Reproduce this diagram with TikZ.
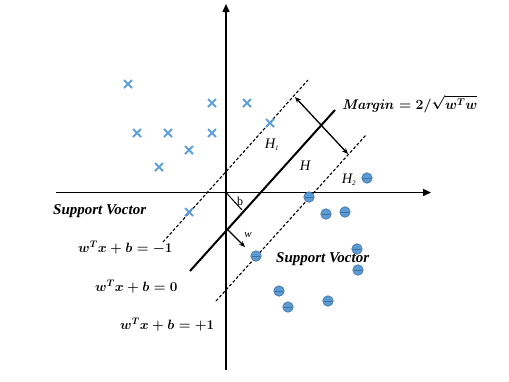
\RequirePackage{fix-cm}
\documentclass[tikz,border=0pt]{standalone}
\usepackage[no-math]{fontspec}
\setmainfont{Liberation Serif}
\usepackage{amsmath}
\usetikzlibrary{shapes.misc,arrows.meta}
\definecolor{ptblue}{HTML}{5B9BD5}
\definecolor{ptedge}{HTML}{41719C}
\definecolor{xblue}{HTML}{5E9FDB}
\tikzset{
  axisline/.style={line width=1.5pt,-{Triangle[length=8pt,width=7pt]}},
  xpt/.style={cross out,draw=xblue,line width=2pt,minimum size=6pt,inner sep=0pt},
  opt/.style={circle,fill=ptblue,draw=ptedge,line width=0.6pt,minimum size=10.5pt,inner sep=0pt,
     path picture={\draw[ptedge,line width=1pt] ([xshift=1pt]path picture bounding box.west) -- ([xshift=-1pt]path picture bounding box.east);}},
  hyper/.style={line width=2pt},
  margline/.style={line width=1.1pt,dash pattern=on 3pt off 2pt},
  hlbl/.style={font=\itshape\fontsize{14.5}{14}\selectfont,inner sep=0pt},
  svtext/.style={font=\bfseries\itshape\fontsize{15}{15}\selectfont,inner sep=0pt},
  eqtext/.style={font=\fontsize{13.5}{14}\selectfont\boldmath,inner sep=0pt},
  margtext/.style={font=\fontsize{14}{14}\selectfont\boldmath,inner sep=0pt},
}
\begin{document}
\begin{tikzpicture}[x=1pt,y=-1pt]
\useasboundingbox (0,0) rectangle (509,381);
% axes
\coordinate (yb) at (226,370);
\coordinate (yt) at (226,4);
\coordinate (xl) at (56,192.5);
\coordinate (xr) at (431,192.5);
\draw[axisline] (yb) -- (yt);
\draw[axisline] (xl) -- (xr);
% hyperplanes
\coordinate (h0a) at (190,271);
\coordinate (h0b) at (335,110);
\coordinate (h1a) at (163,242);
\coordinate (h1b) at (308,80);
\coordinate (h2a) at (216,301);
\coordinate (h2b) at (366,135);
\draw[hyper] (h0a) -- (h0b);
\draw[margline] (h1a) -- (h1b);
\draw[margline] (h2a) -- (h2b);
% margin arrow
\coordinate (ma) at (295,97);
\coordinate (mb) at (348,154);
\draw[line width=1.3pt,{Stealth[length=6pt,width=5pt]}-{Stealth[length=6pt,width=5pt]}] (ma) -- (mb);
% b and w
\coordinate (o) at (226,192.5);
\fill (o) circle (1.8pt);
\coordinate (bf) at (242,210);
\draw[line width=1pt] (o) -- (bf);
\node[font=\fontsize{12}{12}\selectfont,inner sep=0pt] (blab) at (240,201) {b};
\coordinate (ws) at (227,229);
\coordinate (we) at (245,247);
\draw[line width=1.1pt,-{Stealth[length=6pt,width=5pt]}] (ws) -- (we);
\node[font=\itshape\fontsize{11}{11}\selectfont,inner sep=0pt] (wlab) at (248,235) {w};
% labels
\node[hlbl] (H1) at (272,145) {H\textsubscript{\fontsize{7}{7}\selectfont 1}};
\node[hlbl] (H) at (305,166) {H};
\node[hlbl] (H2) at (349,180) {H\textsubscript{\fontsize{7}{7}\selectfont 2}};
\node[margtext,anchor=west] (marg) at (342,104) {$\mathit{Margin}=2/\sqrt{w^{T}w}$};
\node[svtext,anchor=west] (sv1) at (53,211) {Support Voctor};
\node[svtext,anchor=west] (sv2) at (276,259) {Support Voctor};
\node[eqtext,anchor=west] (e1) at (78,248) {$w^{T}x+b=-1$};
\node[eqtext,anchor=west] (e2) at (95,287) {$w^{T}x+b=0$};
\node[eqtext,anchor=west] (e3) at (120,325) {$w^{T}x+b=+1$};
% crosses
\node[xpt] (x1) at (128,84) {};
\node[xpt] (x2) at (212,103) {};
\node[xpt] (x3) at (247,103) {};
\node[xpt] (x4) at (270,123) {};
\node[xpt] (x5) at (137,133) {};
\node[xpt] (x6) at (168,133) {};
\node[xpt] (x7) at (212,133) {};
\node[xpt] (x8) at (189,150) {};
\node[xpt] (x9) at (159,167) {};
\node[xpt] (x10) at (189,212) {};
% circles
\node[opt] (c1) at (367,178) {};
\node[opt] (c2) at (309,197) {};
\node[opt] (c3) at (326,214) {};
\node[opt] (c4) at (345,212) {};
\node[opt] (c5) at (357,249) {};
\node[opt] (c6) at (358,270) {};
\node[opt] (c7) at (256,256) {};
\node[opt] (c8) at (279,291) {};
\node[opt] (c9) at (288,307) {};
\node[opt] (c10) at (328,301) {};
\end{tikzpicture}
\end{document}
